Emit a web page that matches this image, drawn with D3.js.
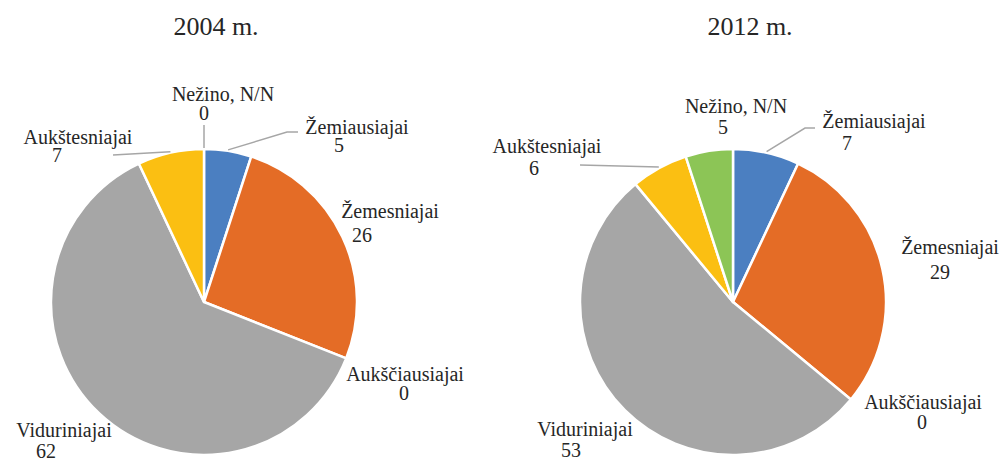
<!DOCTYPE html>
<html>
<head>
<meta charset="utf-8">
<script src="https://cdn.jsdelivr.net/npm/d3@7"></script>
<style>
  body { margin: 0; background: #fff; }
  svg text { font-family: "Liberation Serif", "DejaVu Serif", serif; fill: #262626; }
</style>
</head>
<body>
<div id="chart"></div>
<script>
// data
const categories = ["Žemiausiajai", "Žemesniajai", "Aukščiausiajai", "Viduriniajai", "Aukštesniajai", "Nežino, N/N"];
const values2004 = [5, 26, 0, 62, 7, 0];
const values2012 = [7, 29, 0, 53, 6, 5];
const years = ["2004 m.", "2012 m."];
const colors = ["#4b7fc1", "#e46c26", "#ffffff", "#a6a6a6", "#fbbf12", "#8cc556"];

const W = 1005, H = 458, R = 153;

// label layout per pie: [line x, line y, number x, number y]
const labelPos = [
  [[357, 134, 339, 152], [390, 218, 362, 242], [405, 381, 404, 400], [64, 437, 46, 458], [78, 144, 57, 162], [223, 101, 204, 120]],
  [[874, 128, 847, 150], [950, 254, 940, 279], [923, 409, 922, 429], [585, 436, 571, 457], [547, 153, 534, 175], [736, 113, 723, 134]]
];
// leader line end points (label side), null = no leader
const leaderEnds = [
  [[[287, 132], [298, 132]], null, null, null, [[113, 155]], [[204, 125]]],
  [[[805, 128], [815, 128]], null, null, null, [[580, 165]], null]
];
const pies = [
  { title: years[0], values: values2004, cx: 204, cy: 302, tx: 216 },
  { title: years[1], values: values2012, cx: 733, cy: 302, tx: 750 }
];

const svg = d3.select("#chart").append("svg")
  .attr("width", W)
  .attr("height", H);

const colorScale = d3.scaleOrdinal()
  .domain(categories)
  .range(colors);

const pie = d3.pie().sort(null).value(d => d.value);
const arc = d3.arc().innerRadius(0).outerRadius(R);

pies.forEach((p, pi) => {
  const data = categories.map((c, i) => ({ name: c, value: p.values[i] }));
  const arcs = pie(data);

  svg.append("text")
    .attr("x", p.tx)
    .attr("y", 35)
    .attr("text-anchor", "middle")
    .attr("font-size", 26)
    .text(p.title);

  const g = svg.append("g").attr("transform", `translate(${p.cx},${p.cy})`);
  g.selectAll("path")
    .data(arcs.filter(a => a.value > 0))
    .enter()
    .append("path")
    .attr("d", arc)
    .attr("fill", d => colorScale(d.data.name))
    .attr("stroke", "#fff")
    .attr("stroke-width", 2.5)
    .attr("stroke-linejoin", "round");

  // leader lines
  arcs.forEach((a, i) => {
    const ends = leaderEnds[pi][i];
    if (!ends) return;
    const mid = (a.startAngle + a.endAngle) / 2;
    const pts = [[p.cx + (R + 1) * Math.sin(mid), p.cy - (R + 1) * Math.cos(mid)]].concat(ends);
    svg.append("path")
      .attr("d", d3.line()(pts))
      .attr("fill", "none")
      .attr("stroke", "#a6a6a6")
      .attr("stroke-width", 1.5);
  });

  // labels
  arcs.forEach((a, i) => {
    const [lx, ly, nx, ny] = labelPos[pi][i];
    svg.append("text")
      .attr("x", lx).attr("y", ly)
      .attr("text-anchor", "middle")
      .attr("font-size", 20)
      .text(a.data.name);
    svg.append("text")
      .attr("x", nx).attr("y", ny)
      .attr("text-anchor", "middle")
      .attr("font-size", 20)
      .text(a.data.value);
  });
});
</script>
</body>
</html>
